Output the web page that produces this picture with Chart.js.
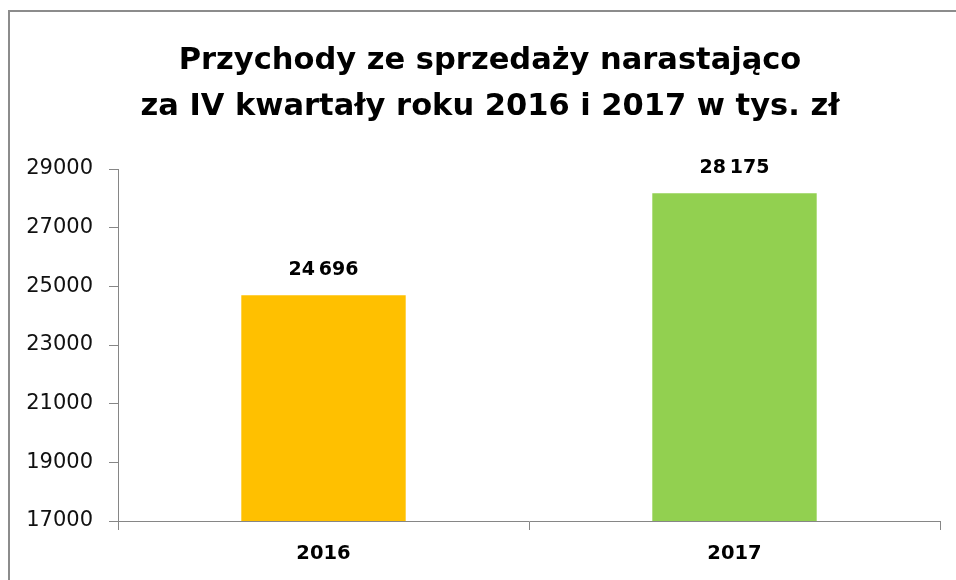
<!DOCTYPE html>
<html>
<head>
<meta charset="utf-8">
<script src="https://cdn.jsdelivr.net/npm/chart.js@4"></script>
<style>
  html, body { margin: 0; padding: 0; background: #fff; }
  #wrap { width: 956px; height: 580px; }
</style>
</head>
<body>
<div id="wrap"><canvas id="plot" width="956" height="580"></canvas></div>
<script>
// data
var years = ["2016", "2017"];
var revenue = [24696, 28175];
var barColors = ["#FFC000", "#92D050"];
var titleLines = ["Przychody ze sprzedaży narastająco", "za IV kwartały roku 2016 i 2017 w tys. zł"];
var yMin = 17000, yMax = 29000, yStep = 2000;

var fontFamily = "'DejaVu Sans', sans-serif";

function spaced(v) {
    return String(v).replace(/\B(?=(\d{3})+(?!\d))/g, "\u2009");
}

// gray frame round the chart (left and top edge visible) + title
var framePlugin = {
    id: "frame",
    beforeDraw: function (chart) {
        var c = chart.ctx;
        c.save();
        c.fillStyle = "#fff";
        c.fillRect(0, 0, chart.width, chart.height);
        c.strokeStyle = "#8c8c8c";
        c.lineWidth = 2;
        c.beginPath();
        c.moveTo(9, chart.height);
        c.lineTo(9, 11);
        c.lineTo(chart.width, 11);
        c.stroke();

        // title is centred on the frame, not on the canvas
        c.font = "bold 30.5px " + fontFamily;
        c.fillStyle = "#000";
        c.textAlign = "center";
        c.textBaseline = "middle";
        titleLines.forEach(function (line, i) {
            c.fillText(line, 490, 61 + i * 46);
        });
        c.restore();
    }
};

// value labels above bars
var labelPlugin = {
    id: "barLabels",
    afterDatasetsDraw: function (chart) {
        var c = chart.ctx;
        var meta = chart.getDatasetMeta(0);
        c.save();
        c.font = "bold 19px " + fontFamily;
        c.fillStyle = "#000";
        c.textAlign = "center";
        c.textBaseline = "bottom";
        meta.data.forEach(function (bar, i) {
            c.fillText(spaced(revenue[i]), bar.x, bar.y - 16);
        });
        c.restore();
    }
};

new Chart(document.getElementById("plot"), {
    type: "bar",
    data: {
        labels: years,
        datasets: [{
            data: revenue,
            backgroundColor: barColors,
            borderWidth: 0,
            barPercentage: 0.8,
            categoryPercentage: 0.5
        }]
    },
    options: {
        responsive: false,
        animation: false,
        layout: { padding: { left: 0, right: 16, top: 169, bottom: 0 } },
        plugins: {
            legend: { display: false },
            tooltip: { enabled: false },
            title: { display: false }
        },
        scales: {
            x: {
                offset: true,
                afterFit: function (scale) { scale.height = 59; },
                grid: {
                    offset: true,
                    drawOnChartArea: false,
                    drawTicks: true,
                    tickLength: 9,
                    color: "#868686"
                },
                border: { color: "#868686", width: 1 },
                ticks: {
                    color: "#000",
                    padding: 12,
                    font: { family: fontFamily, size: 19.5, weight: "bold" }
                }
            },
            y: {
                min: yMin,
                max: yMax,
                afterFit: function (scale) { scale.width = 118; },
                grid: {
                    drawOnChartArea: false,
                    drawTicks: true,
                    tickLength: 9,
                    color: "#868686"
                },
                border: { color: "#868686", width: 1 },
                ticks: {
                    stepSize: yStep,
                    color: "#111",
                    padding: 16,
                    font: { family: fontFamily, size: 21 },
                    callback: function (v) { return String(v); }
                }
            }
        }
    },
    plugins: [framePlugin, labelPlugin]
});
</script>
</body>
</html>
